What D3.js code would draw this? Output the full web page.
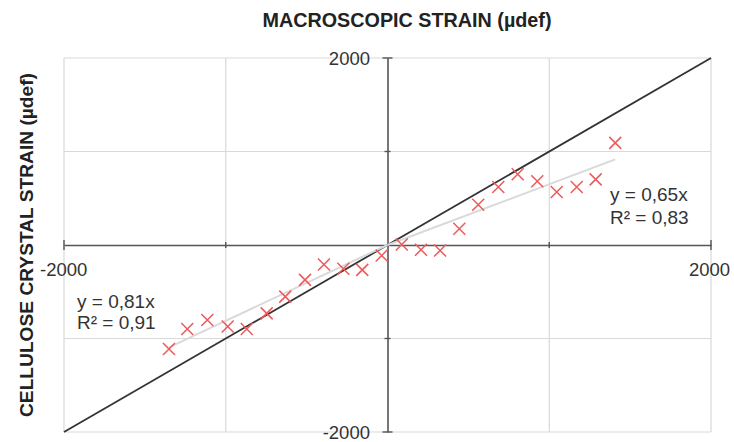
<!DOCTYPE html>
<html>
<head>
<meta charset="utf-8">
<script src="https://cdnjs.cloudflare.com/ajax/libs/d3/7.8.5/d3.min.js"></script>
<style>
  body { margin: 0; background: #fff; }
  text { font-family: "Liberation Sans", Arial, sans-serif; }
</style>
</head>
<body>
<div id="chart"></div>
<script>
// measured points (µdef)
var macroStrain = [-1351, -1238, -1114, -988, -870, -747, -632, -510, -393, -273, -156, -36,
                   88, 207, 325, 444, 561, 685, 805, 926, 1046, 1170, 1287, 1408];
var crystalStrain = [-1113, -899, -802, -871, -899, -731, -552, -373, -209, -255, -266, -113,
                     5, -51, -59, 174, 431, 620, 756, 681, 566, 620, 702, 1092];
var axisTicks = [-2000, -1000, 0, 1000, 2000];
// linear fits through origin
var fitLeft = { slope: 0.81, from: -1351, to: 0, label: ["y = 0,81x", "R² = 0,91"] };
var fitRight = { slope: 0.65, from: 0, to: 1408, label: ["y = 0,65x", "R² = 0,83"] };

var width = 734, height = 442;
var svg = d3.select('#chart').append('svg')
        .attr('width', width)
        .attr('height', height);

var x = d3.scaleLinear().domain([-2000, 2000]).range([64, 711]);
var y = d3.scaleLinear().domain([-2000, 2000]).range([432, 58]);

//grid
var grid = svg.append('g').attr('stroke', '#d9d9d9').attr('stroke-width', 1.2);
axisTicks.forEach(function (t) {
    if (t === 0) return;
    grid.append('line').attr('x1', x(t)).attr('x2', x(t)).attr('y1', y(2000)).attr('y2', y(-2000));
    grid.append('line').attr('y1', y(t)).attr('y2', y(t)).attr('x1', x(-2000)).attr('x2', x(2000));
});

//axes through origin
var xAxis = d3.axisBottom(x).tickValues(axisTicks).tickSize(0).tickFormat('');
var yAxis = d3.axisLeft(y).tickValues(axisTicks).tickSize(0).tickFormat('');
svg.append('g').attr('transform', 'translate(0,' + y(0) + ')').call(xAxis)
   .select('.domain').attr('stroke', '#555').attr('stroke-width', 1.6);
svg.append('g').attr('transform', 'translate(' + x(0) + ',0)').call(yAxis)
   .select('.domain').attr('stroke', '#555').attr('stroke-width', 1.6);

//tick marks
var ticks = svg.append('g').attr('stroke', '#555').attr('stroke-width', 1.4);
axisTicks.forEach(function (t) {
    if (t === 0) return;
    var h = Math.abs(t) === 2000 ? 5 : 3;
    ticks.append('line').attr('x1', x(t)).attr('x2', x(t)).attr('y1', y(0) - h).attr('y2', y(0) + h);
    ticks.append('line').attr('x1', x(0) - h).attr('x2', x(0) + h).attr('y1', y(t)).attr('y2', y(t));
});

//tick labels
var lab = svg.append('g').attr('fill', '#333').attr('font-size', 18.5);
lab.append('text').attr('x', 370).attr('y', 65).attr('text-anchor', 'end').text('2000');
lab.append('text').attr('x', 370).attr('y', 439).attr('text-anchor', 'end').text('-2000');
lab.append('text').attr('x', 40).attr('y', 276).attr('text-anchor', 'start').text('-2000');
lab.append('text').attr('x', 689).attr('y', 276).attr('text-anchor', 'start').text('2000');

//y = x line
svg.append('line')
   .attr('x1', x(-2000)).attr('y1', y(-2000)).attr('x2', x(2000)).attr('y2', y(2000))
   .attr('stroke', '#333').attr('stroke-width', 1.8);

//trend lines
[fitLeft, fitRight].forEach(function (f) {
    svg.append('line')
       .attr('x1', x(f.from)).attr('y1', y(f.slope * f.from))
       .attr('x2', x(f.to)).attr('y2', y(f.slope * f.to))
       .attr('stroke', '#d9d9d9').attr('stroke-width', 2);
});

//markers
var pts = macroStrain.map(function (v, i) { return [v, crystalStrain[i]]; });
var s = 6;
svg.append('g').selectAll('path').data(pts).enter().append('path')
   .attr('d', function (d) {
       var cx = x(d[0]), cy = y(d[1]);
       return 'M' + (cx - s) + ',' + (cy - s) + 'L' + (cx + s) + ',' + (cy + s) +
              'M' + (cx - s) + ',' + (cy + s) + 'L' + (cx + s) + ',' + (cy - s);
   })
   .attr('stroke', '#ee5a5a').attr('stroke-width', 1.5).attr('fill', 'none');

//fit labels
var eq = svg.append('g').attr('fill', '#333').attr('font-size', 19);
eq.append('text').attr('x', 77).attr('y', 308).text(fitLeft.label[0]);
eq.append('text').attr('x', 77).attr('y', 329).text(fitLeft.label[1]);
eq.append('text').attr('x', 610).attr('y', 201).text(fitRight.label[0]);
eq.append('text').attr('x', 610).attr('y', 224).text(fitRight.label[1]);

//titles
svg.append('text').attr('x', 407).attr('y', 27).attr('text-anchor', 'middle')
   .attr('font-size', 20).attr('font-weight', 'bold').attr('fill', '#222')
   .attr('textLength', 289).attr('lengthAdjust', 'spacingAndGlyphs')
   .text('MACROSCOPIC STRAIN (µdef)');
svg.append('text').attr('transform', 'translate(33,245)rotate(-90)').attr('text-anchor', 'middle')
   .attr('font-size', 19).attr('font-weight', 'bold').attr('fill', '#222')
   .attr('textLength', 344).attr('lengthAdjust', 'spacingAndGlyphs')
   .text('CELLULOSE CRYSTAL STRAIN (µdef)');
</script>
</body>
</html>
